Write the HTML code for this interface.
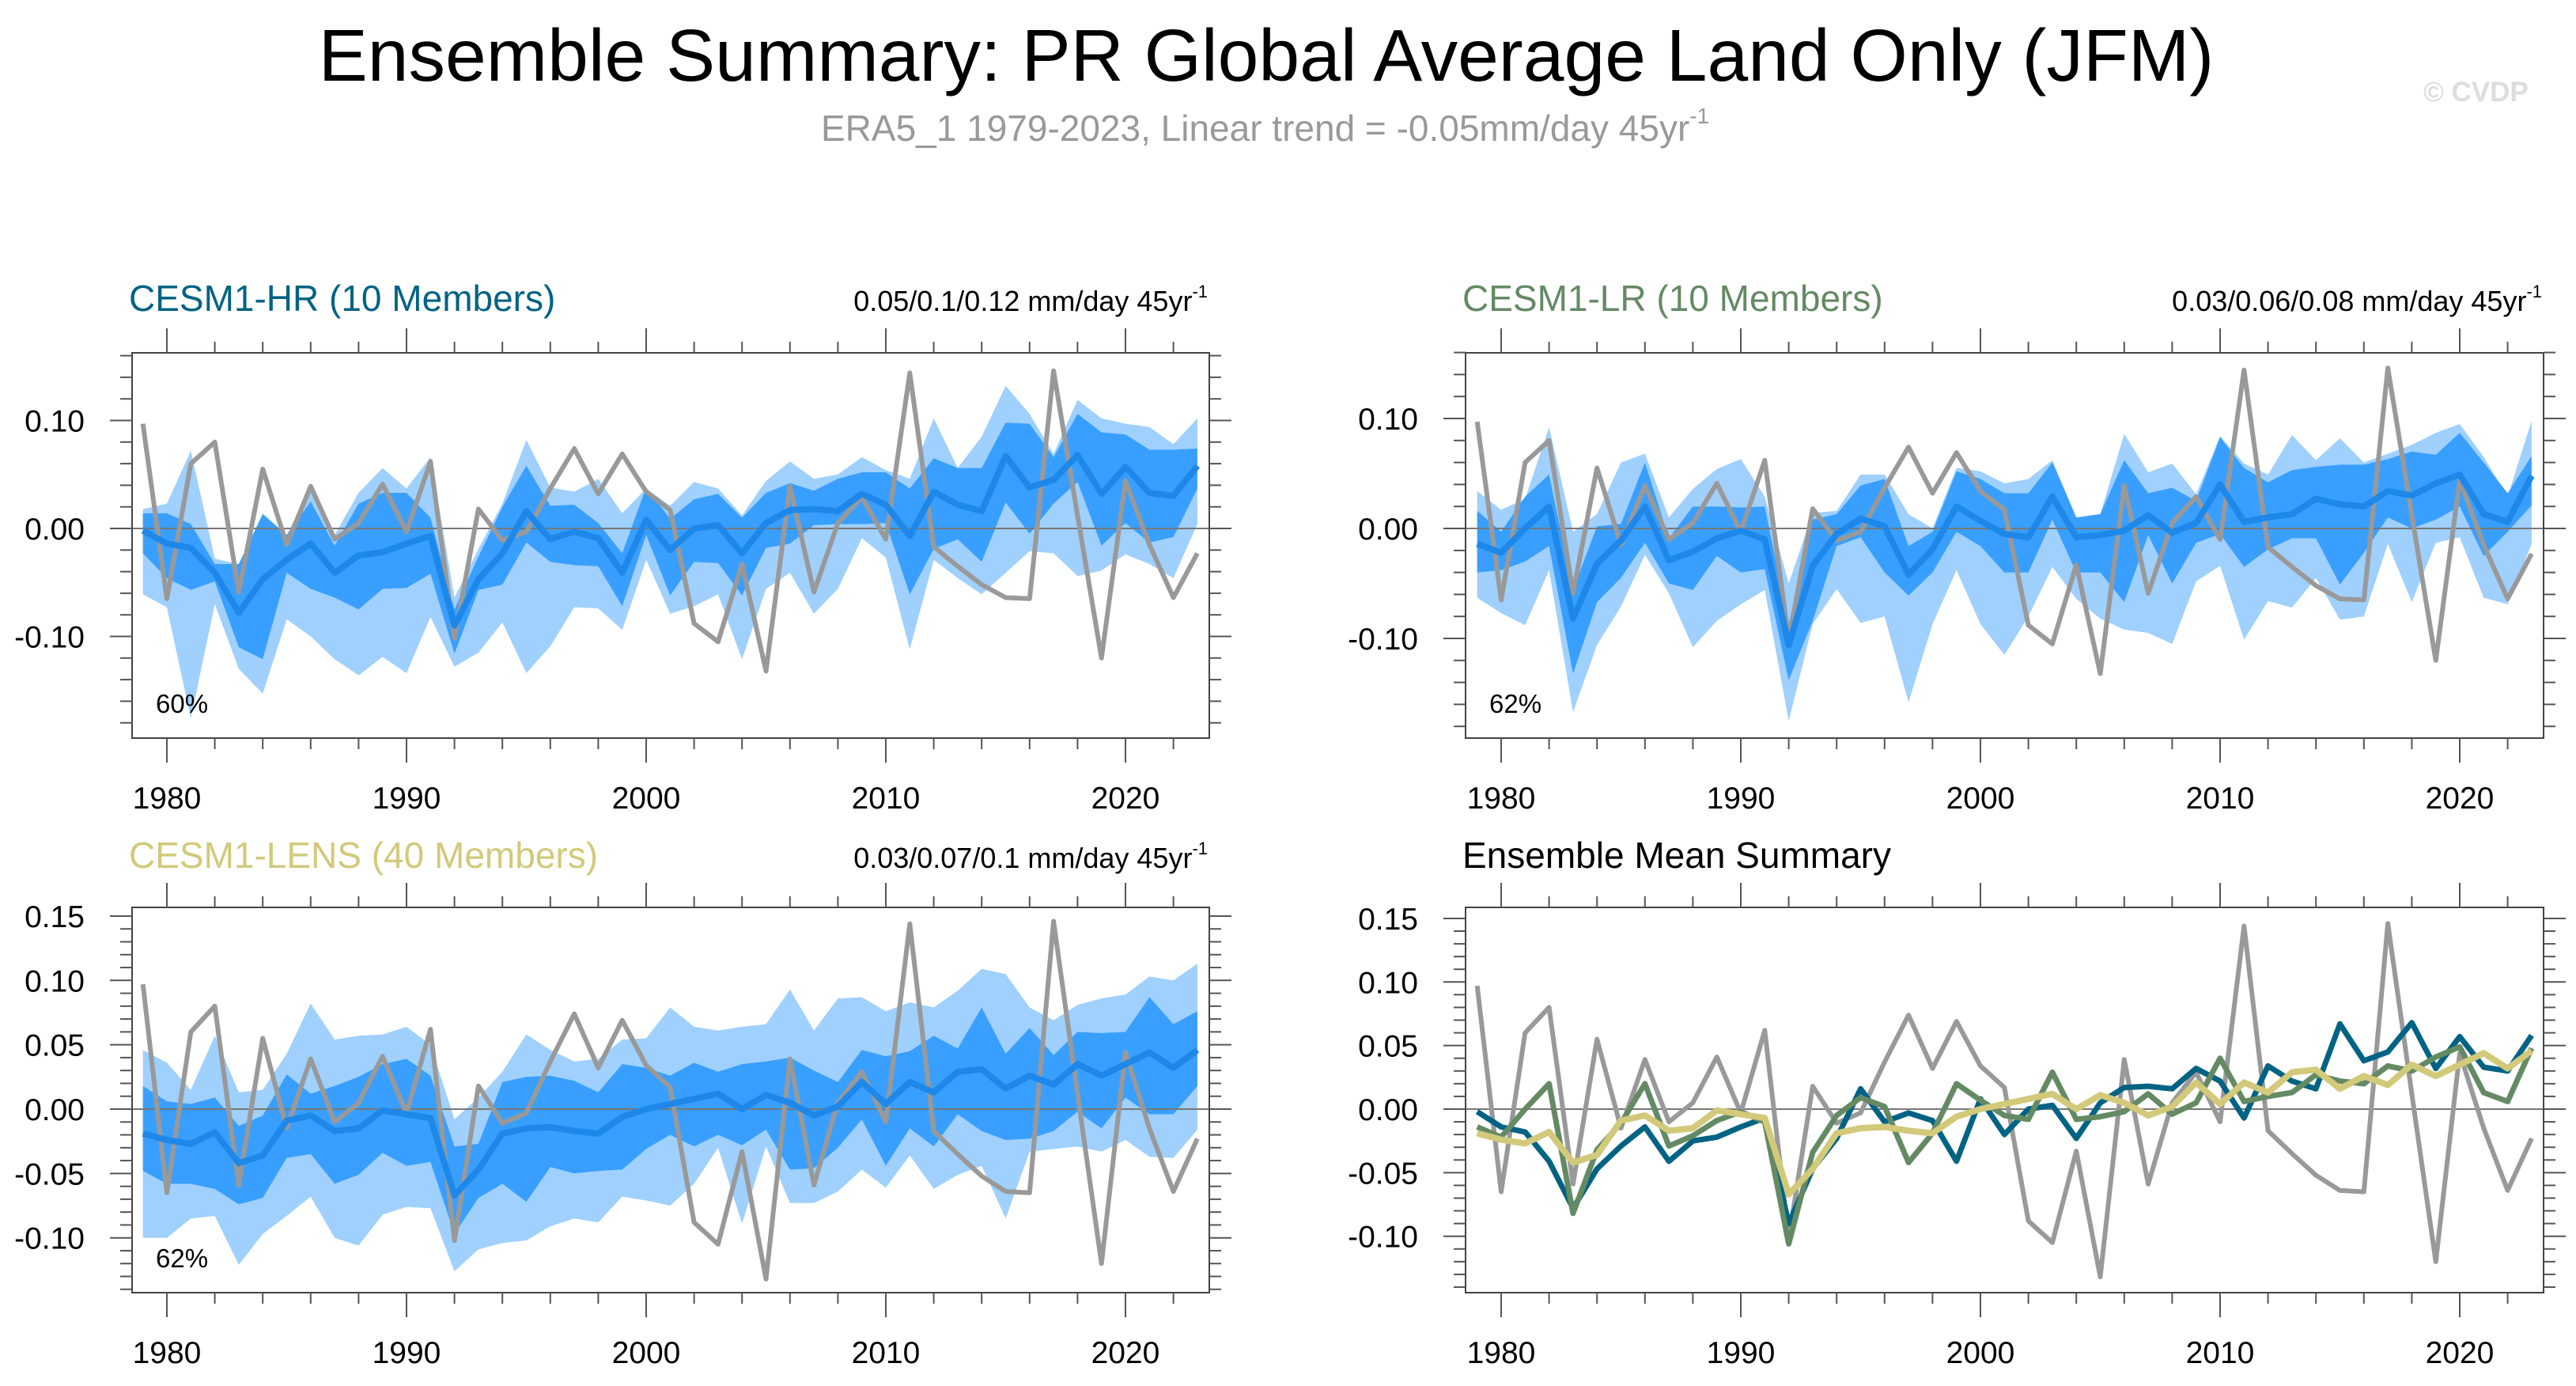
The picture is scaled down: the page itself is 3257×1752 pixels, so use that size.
<!DOCTYPE html>
<html><head><meta charset="utf-8"><style>
html,body{margin:0;padding:0;background:#fff}
svg{display:block;font-family:"Liberation Sans",Arial,sans-serif}
</style></head><body>
<svg id="chart" width="3257" height="1752" viewBox="0 0 3257 1752" xmlns="http://www.w3.org/2000/svg">
<rect width="3257" height="1752" fill="#fff"/>
<text x="1601" y="102" font-size="93" text-anchor="middle" fill="#000">Ensemble Summary: PR Global Average Land Only (JFM)</text>
<text x="1038" y="178" font-size="46" fill="#999">ERA5_1 1979-2023, Linear trend = -0.05mm/day 45yr<tspan font-size="28" dy="-22">-1</tspan></text>
<text x="3064" y="128" font-size="35" font-weight="bold" fill="#ddd">© CVDP</text>
<g id="panels"></g>
</svg>
<script>
const years = [];
for (let y = 1979; y <= 2023; y++) years.push(y);
const obs = [0.097,-0.065,0.060,0.080,-0.059,0.055,-0.015,0.039,-0.010,0.005,0.041,-0.003,0.062,-0.102,0.018,-0.011,-0.003,0.037,0.074,0.032,0.069,0.034,0.017,-0.088,-0.105,-0.033,-0.132,0.039,-0.059,0.005,0.029,-0.010,0.144,-0.017,-0.035,-0.052,-0.064,-0.065,0.146,0.012,-0.120,0.044,-0.015,-0.064,-0.023];
const hrMean = [-0.002,-0.014,-0.018,-0.041,-0.078,-0.047,-0.029,-0.014,-0.041,-0.025,-0.022,-0.014,-0.007,-0.090,-0.047,-0.023,0.016,-0.010,-0.003,-0.009,-0.041,0.008,-0.020,0.000,0.003,-0.023,0.005,0.017,0.018,0.016,0.032,0.022,-0.007,0.034,0.022,0.016,0.067,0.038,0.045,0.068,0.032,0.057,0.033,0.030,0.058];
const hrDarkHi = [0.014,0.014,0.004,-0.033,-0.033,0.013,-0.006,0.025,-0.016,0.023,0.033,0.033,0.010,-0.075,-0.026,0.020,0.058,0.021,0.022,0.005,-0.023,0.038,0.009,0.027,0.032,0.010,0.033,0.042,0.035,0.046,0.052,0.052,0.037,0.065,0.056,0.056,0.098,0.097,0.066,0.106,0.089,0.087,0.073,0.073,0.074];
const hrDarkLo = [-0.023,-0.046,-0.057,-0.049,-0.110,-0.121,-0.041,-0.056,-0.064,-0.075,-0.056,-0.055,-0.042,-0.116,-0.057,-0.052,-0.013,-0.031,-0.034,-0.035,-0.072,-0.006,-0.062,-0.031,-0.032,-0.062,-0.018,-0.014,0.003,0.004,0.004,0.005,-0.061,-0.019,-0.010,-0.031,0.024,-0.005,0.023,0.043,-0.016,0.005,-0.013,-0.008,0.037];
const hrLightHi = [0.018,0.023,0.072,-0.028,-0.033,0.014,-0.006,0.038,-0.006,0.033,0.056,0.037,0.066,-0.064,-0.019,0.023,0.082,0.038,0.034,0.046,0.014,0.037,0.021,0.043,0.037,0.012,0.044,0.062,0.046,0.050,0.066,0.054,0.046,0.102,0.056,0.085,0.132,0.106,0.069,0.119,0.102,0.097,0.094,0.078,0.102];
const hrLightLo = [-0.061,-0.073,-0.176,-0.070,-0.130,-0.153,-0.084,-0.100,-0.121,-0.136,-0.119,-0.134,-0.082,-0.128,-0.115,-0.087,-0.134,-0.109,-0.073,-0.074,-0.094,-0.029,-0.079,-0.072,-0.061,-0.121,-0.056,-0.041,-0.079,-0.056,-0.009,-0.027,-0.112,-0.029,-0.046,-0.061,-0.041,-0.021,-0.023,-0.044,-0.039,-0.024,-0.033,-0.046,0.004];
const lrMean = [-0.014,-0.022,0.000,0.020,-0.082,-0.032,-0.011,0.020,-0.029,-0.021,-0.009,-0.002,-0.010,-0.106,-0.034,-0.005,0.009,0.002,-0.042,-0.019,0.020,0.007,-0.005,-0.008,0.029,-0.008,-0.006,-0.002,0.012,-0.004,0.005,0.040,0.006,0.010,0.013,0.027,0.022,0.020,0.034,0.030,0.041,0.049,0.013,0.006,0.048];
const lrDarkHi = [0.016,-0.003,0.029,0.049,-0.056,0.002,0.004,0.060,-0.009,0.020,0.020,0.019,0.020,-0.087,0.008,0.013,0.039,0.045,-0.016,-0.003,0.052,0.045,0.032,0.032,0.060,0.010,0.013,0.062,0.032,0.037,0.025,0.083,0.055,0.042,0.053,0.056,0.058,0.058,0.063,0.070,0.067,0.087,0.060,0.032,0.066];
const lrDarkLo = [-0.040,-0.038,-0.030,-0.016,-0.132,-0.067,-0.045,-0.013,-0.050,-0.056,-0.025,-0.040,-0.037,-0.138,-0.084,-0.016,-0.008,-0.040,-0.061,-0.040,-0.003,-0.016,-0.040,-0.040,0.008,-0.040,-0.040,-0.067,-0.006,-0.050,-0.013,-0.005,-0.035,-0.019,-0.009,-0.009,-0.051,-0.022,0.010,0.000,0.008,0.020,-0.025,-0.003,0.021];
const lrLightHi = [0.034,0.017,0.027,0.092,-0.003,0.013,0.060,0.068,0.010,0.036,0.054,0.063,0.029,-0.050,0.014,0.016,0.049,0.049,0.013,0.000,0.055,0.052,0.041,0.045,0.062,0.010,0.013,0.086,0.051,0.059,0.031,0.084,0.059,0.049,0.085,0.062,0.082,0.060,0.068,0.076,0.087,0.095,0.065,0.029,0.098];
const lrLightLo = [-0.063,-0.077,-0.088,-0.038,-0.167,-0.106,-0.071,-0.024,-0.059,-0.108,-0.084,-0.069,-0.056,-0.175,-0.087,-0.055,-0.086,-0.080,-0.158,-0.087,-0.038,-0.087,-0.115,-0.080,-0.035,-0.064,-0.082,-0.092,-0.095,-0.105,-0.048,-0.034,-0.101,-0.066,-0.072,-0.045,-0.083,-0.080,-0.014,-0.067,-0.013,-0.008,-0.063,-0.069,-0.014];
const lensMean = [-0.019,-0.024,-0.027,-0.018,-0.042,-0.036,-0.009,-0.005,-0.017,-0.015,-0.001,-0.004,-0.007,-0.067,-0.047,-0.019,-0.015,-0.014,-0.017,-0.019,-0.006,0.000,0.004,0.008,0.012,0.000,0.011,0.005,-0.005,0.002,0.021,0.004,0.021,0.013,0.029,0.031,0.016,0.026,0.019,0.035,0.026,0.035,0.044,0.032,0.046];
const lensDarkHi = [0.018,0.006,0.004,0.009,-0.013,-0.005,0.027,0.012,0.018,0.025,0.035,0.039,0.026,-0.029,-0.027,0.021,0.025,0.026,0.022,0.013,0.035,0.032,0.026,0.036,0.029,0.035,0.037,0.040,0.030,0.021,0.046,0.041,0.045,0.057,0.047,0.079,0.043,0.063,0.042,0.060,0.059,0.060,0.087,0.066,0.076];
const lensDarkLo = [-0.048,-0.058,-0.058,-0.062,-0.074,-0.069,-0.038,-0.035,-0.058,-0.051,-0.034,-0.044,-0.041,-0.097,-0.069,-0.058,-0.072,-0.045,-0.050,-0.048,-0.047,-0.031,-0.020,-0.029,-0.020,-0.028,-0.016,-0.047,-0.046,-0.030,-0.008,-0.044,-0.015,-0.029,-0.004,-0.017,-0.024,-0.023,-0.017,-0.002,-0.015,0.009,-0.004,-0.004,0.018];
const lensLightHi = [0.046,0.036,0.015,0.057,0.013,0.015,0.043,0.082,0.054,0.057,0.058,0.064,0.050,-0.008,0.009,0.029,0.058,0.046,0.037,0.039,0.054,0.055,0.079,0.064,0.061,0.064,0.066,0.093,0.061,0.086,0.087,0.076,0.083,0.079,0.092,0.109,0.105,0.079,0.069,0.081,0.086,0.089,0.103,0.100,0.113];
const lensLightLo = [-0.100,-0.100,-0.085,-0.083,-0.121,-0.097,-0.083,-0.068,-0.100,-0.106,-0.082,-0.076,-0.077,-0.126,-0.109,-0.104,-0.102,-0.091,-0.085,-0.088,-0.068,-0.071,-0.075,-0.058,-0.030,-0.089,-0.029,-0.073,-0.073,-0.064,-0.047,-0.061,-0.036,-0.062,-0.051,-0.044,-0.085,-0.033,-0.031,-0.029,-0.033,-0.024,-0.037,-0.038,-0.016];
const yTicksTop = [-0.10, 0.00, 0.10];
const yTicksBottom = [-0.10, -0.05, 0.00, 0.05, 0.10, 0.15];
const xTicks = [1980, 1990, 2000, 2010, 2020];

const NS = 'http://www.w3.org/2000/svg';
const root = document.getElementById('panels');
function mk(tag, attrs, parent) {
  const e = document.createElementNS(NS, tag);
  for (const k in attrs) e.setAttribute(k, attrs[k]);
  (parent || root).appendChild(e);
  return e;
}

function panel(p) {
  const g = mk('g', {});
  
  
  const X = yr => p.x1980 + (yr - 1980) * 30.3;
  const Y = v => p.y0 - v * p.per;
  const t = mk('text', {x: p.left - 4, y: p.ty, 'font-size': 46, fill: p.tcolor}, g);
  t.textContent = p.title;
  
  
  if (p.trend) {
    const tr = mk('text', {x: p.right - 2, y: p.ty, 'font-size': 36, 'text-anchor': 'end', fill: '#000'}, g);
    tr.innerHTML = p.trend + '<tspan font-size="22" dy="-17">-1</tspan>';
    
    
  }
  const clipId = 'clip-' + p.name;
  const cp = mk('clipPath', {id: clipId}, g);
  mk('rect', {x: p.left, y: p.top, width: p.right - p.left, height: p.bottom - p.top}, cp);
  const plot = mk('g', {'clip-path': 'url(#' + clipId + ')'}, g);
  function band(hi, lo, color, nm) {
    let d = '';
    years.forEach((yr, i) => { d += (i ? 'L' : 'M') + X(yr).toFixed(1) + ',' + Y(hi[i]).toFixed(1); });
    for (let i = years.length - 1; i >= 0; i--) d += 'L' + X(years[i]).toFixed(1) + ',' + Y(lo[i]).toFixed(1);
    const e = mk('path', {d: d + 'Z', fill: color}, plot);
    
    
  }
  function line(vals, color, w, nm) {
    const pts = years.map((yr, i) => X(yr).toFixed(1) + ',' + Y(vals[i]).toFixed(1)).join(' ');
    const e = mk('polyline', {points: pts, fill: 'none', stroke: color, 'stroke-width': w, 'stroke-linejoin': 'round'}, plot);
    
    
  }
  if (p.bands) {
    band(p.bands[0], p.bands[1], '#9fd0fe', p.name + '-outer-range-band');
    band(p.bands[2], p.bands[3], '#399ffe', p.name + '-inner-range-band');
  }
  const z = mk('line', {x1: p.left, x2: p.right, y1: Y(0), y2: Y(0), stroke: '#777', 'stroke-width': 2}, plot);
  
  
  if (p.bands) {
    line(obs, '#999', 6, p.name + '-observed-line');
    line(p.mean, '#1e88ea', 8, p.name + '-ensemble-mean-line');
  } else {
    line(obs, '#999', 6, p.name + '-observed-line');
    line(hrMean, '#006384', 7, p.name + '-cesm1-hr-line');
    line(lrMean, '#648a64', 7, p.name + '-cesm1-lr-line');
    line(lensMean, '#d2c97a', 8, p.name + '-cesm1-lens-line');
  }
  const f = mk('rect', {x: p.left, y: p.top, width: p.right - p.left, height: p.bottom - p.top, fill: 'none', stroke: '#444', 'stroke-width': 2}, g);
  
  
  const ax = mk('g', {stroke: '#555', 'stroke-width': 2}, g);
  
  
  for (let yr = 1980; yr <= 2022; yr += 2) {
    const major = yr % 10 === 0;
    const L = major ? 31 : 14;
    mk('line', {x1: X(yr), x2: X(yr), y1: p.top, y2: p.top - L}, ax);
    mk('line', {x1: X(yr), x2: X(yr), y1: p.bottom, y2: p.bottom + L}, ax);
  }
  xTicks.forEach(yr => {
    const e = mk('text', {x: X(yr), y: p.xl, 'font-size': 39, 'text-anchor': 'middle', fill: '#000', stroke: 'none'}, g);
    e.textContent = yr;
    
    
  });
  const ticks = p.yticks;
  const step = p.minor;
  for (let v = -0.30; v <= 0.30001; v += step) {
    const yy = Y(v);
    if (yy < p.top - 1 || yy > p.bottom + 1) continue;
    const isMaj = ticks.some(t => Math.abs(t - v) < 1e-6);
    const L = isMaj ? 28 : 15;
    mk('line', {x1: p.left, x2: p.left - L, y1: yy, y2: yy}, ax);
    mk('line', {x1: p.right, x2: p.right + L, y1: yy, y2: yy}, ax);
  }
  ticks.forEach(v => {
    const e = mk('text', {x: p.left - 60, y: Y(v) + 14, 'font-size': 39, 'text-anchor': 'end', fill: '#000', stroke: 'none'}, g);
    e.textContent = v.toFixed(2);
    
    
  });
  if (p.pct) {
    const e = mk('text', {x: p.left + 30, y: p.bottom - 32, 'font-size': 33, fill: '#000'}, g);
    e.textContent = p.pct;
    
    
  }
}

panel({name: 'cesm1-hr', title: 'CESM1-HR (10 Members)', tcolor: '#006384', trend: '0.05/0.1/0.12 mm/day 45yr',
  left: 167, right: 1529, top: 446, bottom: 933, x1980: 211, y0: 668, per: 1365, ty: 393, xl: 1022,
  yticks: yTicksTop, minor: 0.02, pct: '60%', mean: hrMean, bands: [hrLightHi, hrLightLo, hrDarkHi, hrDarkLo]});
panel({name: 'cesm1-lr', title: 'CESM1-LR (10 Members)', tcolor: '#648a64', trend: '0.03/0.06/0.08 mm/day 45yr',
  left: 1853, right: 3216, top: 446, bottom: 933, x1980: 1898, y0: 668, per: 1390, ty: 393, xl: 1022,
  yticks: yTicksTop, minor: 0.02, pct: '62%', mean: lrMean, bands: [lrLightHi, lrLightLo, lrDarkHi, lrDarkLo]});
panel({name: 'cesm1-lens', title: 'CESM1-LENS (40 Members)', tcolor: '#d2c97a', trend: '0.03/0.07/0.1 mm/day 45yr',
  left: 167, right: 1529, top: 1147, bottom: 1634, x1980: 211, y0: 1402, per: 1627, ty: 1097, xl: 1723,
  yticks: yTicksBottom, minor: 0.01, pct: '62%', mean: lensMean, bands: [lensLightHi, lensLightLo, lensDarkHi, lensDarkLo]});
panel({name: 'ensemble-mean-summary', title: 'Ensemble Mean Summary', tcolor: '#000',
  left: 1853, right: 3216, top: 1147, bottom: 1634, x1980: 1898, y0: 1402, per: 1607, ty: 1097, xl: 1723,
  yticks: yTicksBottom, minor: 0.01});
</script>
</body></html>
